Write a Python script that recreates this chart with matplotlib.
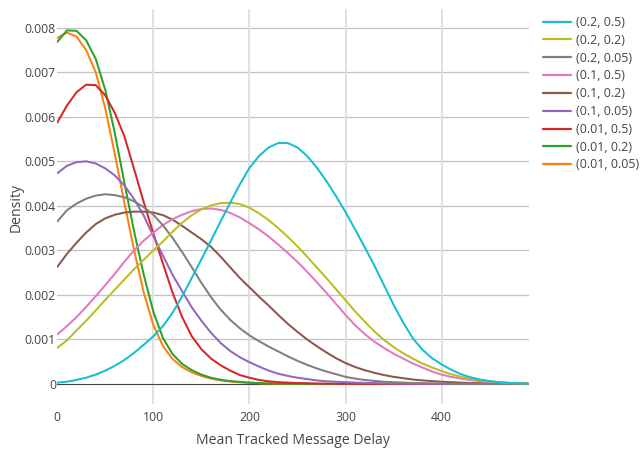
import matplotlib
matplotlib.use("Agg")
import matplotlib.pyplot as plt
from matplotlib.ticker import FuncFormatter

plt.rcParams['font.family'] = ['Open Sans', 'DejaVu Sans']

# ---- data (density values in units of 1e-3) ----
delay = [0, 10, 20, 30, 40, 50, 60, 70, 80, 90,
         100, 110, 120, 130, 140, 150, 160, 170, 180, 190,
         200, 210, 220, 230, 240, 250, 260, 270, 280, 290,
         300, 310, 320, 330, 340, 350, 360, 370, 380, 390,
         400, 410, 420, 430, 440, 450, 460, 470, 480, 490]
DENSITY_UNIT = 1e-3

d_001_005 = [7.77, 7.89, 7.80, 7.50, 7.00, 6.18, 5.15, 4.05, 3.00, 2.05,
             1.32, 0.85, 0.56, 0.38, 0.26, 0.18, 0.12, 0.08, 0.055, 0.037,
             0.025, 0.017, 0.011, 0.007, 0.005, 0.003, 0.002, 0.001, 0.001, 0,
             0, 0, 0, 0, 0, 0, 0, 0, 0, 0,
             0, 0, 0, 0, 0, 0, 0, 0, 0, 0]
d_001_02 = [7.68, 7.94, 7.93, 7.72, 7.30, 6.60, 5.62, 4.50, 3.42, 2.45,
            1.62, 1.03, 0.67, 0.45, 0.31, 0.21, 0.14, 0.095, 0.065, 0.045,
            0.03, 0.02, 0.013, 0.009, 0.006, 0.004, 0.002, 0.001, 0.001, 0,
            0, 0, 0, 0, 0, 0, 0, 0, 0, 0,
            0, 0, 0, 0, 0, 0, 0, 0, 0, 0]
d_001_05 = [5.87, 6.25, 6.55, 6.72, 6.71, 6.48, 6.08, 5.55, 4.82, 4.08,
            3.38, 2.70, 2.05, 1.50, 1.07, 0.78, 0.57, 0.42, 0.30, 0.20,
            0.14, 0.09, 0.06, 0.04, 0.03, 0.02, 0.015, 0.01, 0.007, 0.005,
            0.004, 0.003, 0.002, 0.001, 0.001, 0, 0, 0, 0, 0,
            0, 0, 0, 0, 0, 0, 0, 0, 0, 0]
d_01_005 = [4.73, 4.90, 4.98, 5.00, 4.95, 4.84, 4.68, 4.45, 4.15, 3.78,
            3.32, 2.88, 2.45, 2.08, 1.72, 1.42, 1.15, 0.92, 0.74, 0.60,
            0.49, 0.39, 0.30, 0.23, 0.18, 0.14, 0.11, 0.08, 0.06, 0.05,
            0.04, 0.03, 0.025, 0.02, 0.015, 0.01, 0.008, 0.006, 0.005, 0.004,
            0.003, 0.002, 0.002, 0.001, 0.001, 0, 0, 0, 0, 0]
d_01_02 = [2.63, 2.92, 3.17, 3.40, 3.59, 3.72, 3.80, 3.85, 3.87, 3.87,
           3.85, 3.79, 3.69, 3.55, 3.40, 3.25, 3.08, 2.86, 2.62, 2.38,
           2.17, 1.96, 1.76, 1.55, 1.35, 1.17, 1.00, 0.85, 0.71, 0.58,
           0.47, 0.38, 0.31, 0.25, 0.20, 0.16, 0.13, 0.10, 0.08, 0.065,
           0.05, 0.04, 0.03, 0.022, 0.016, 0.012, 0.008, 0.005, 0.003, 0.002]
d_01_05 = [1.11, 1.30, 1.50, 1.73, 1.97, 2.22, 2.48, 2.75, 3.00, 3.22,
           3.40, 3.57, 3.70, 3.80, 3.88, 3.93, 3.94, 3.91, 3.84, 3.74,
           3.61, 3.47, 3.31, 3.13, 2.94, 2.74, 2.52, 2.29, 2.05, 1.80,
           1.55, 1.32, 1.12, 0.95, 0.81, 0.68, 0.57, 0.46, 0.37, 0.28,
           0.21, 0.16, 0.12, 0.09, 0.06, 0.04, 0.03, 0.02, 0.01, 0.005]
d_02_005 = [3.65, 3.90, 4.05, 4.16, 4.23, 4.26, 4.24, 4.19, 4.10, 3.97,
            3.80, 3.56, 3.28, 2.96, 2.62, 2.27, 1.95, 1.67, 1.44, 1.25,
            1.09, 0.96, 0.84, 0.73, 0.62, 0.52, 0.43, 0.35, 0.28, 0.22,
            0.16, 0.12, 0.09, 0.07, 0.05, 0.04, 0.03, 0.022, 0.016, 0.012,
            0.009, 0.006, 0.004, 0.003, 0.002, 0.001, 0.001, 0, 0, 0]
d_02_02 = [0.81, 0.98, 1.20, 1.42, 1.65, 1.89, 2.12, 2.35, 2.58, 2.79,
           3.00, 3.20, 3.42, 3.62, 3.79, 3.92, 4.01, 4.06, 4.07, 4.04,
           3.96, 3.83, 3.68, 3.50, 3.30, 3.09, 2.86, 2.62, 2.38, 2.13,
           1.88, 1.63, 1.40, 1.18, 0.99, 0.83, 0.69, 0.57, 0.46, 0.37,
           0.29, 0.22, 0.16, 0.12, 0.08, 0.06, 0.04, 0.025, 0.015, 0.01]
d_02_05 = [0.03, 0.05, 0.09, 0.14, 0.21, 0.30, 0.41, 0.54, 0.70, 0.88,
           1.07, 1.30, 1.60, 1.97, 2.38, 2.80, 3.22, 3.65, 4.07, 4.48,
           4.85, 5.12, 5.31, 5.41, 5.41, 5.31, 5.12, 4.86, 4.56, 4.22,
           3.86, 3.47, 3.07, 2.66, 2.22, 1.78, 1.38, 1.03, 0.77, 0.58,
           0.44, 0.32, 0.22, 0.15, 0.10, 0.065, 0.04, 0.025, 0.015, 0.01]

series_labels = ["(0.01, 0.05)", "(0.01, 0.2)", "(0.01, 0.5)",
                 "(0.1, 0.05)", "(0.1, 0.2)", "(0.1, 0.5)",
                 "(0.2, 0.05)", "(0.2, 0.2)", "(0.2, 0.5)"]
series_values = [d_001_005, d_001_02, d_001_05, d_01_005, d_01_02, d_01_05,
                 d_02_005, d_02_02, d_02_05]
series_colors = ["#ff7f0e", "#2ca02c", "#d62728", "#9467bd", "#8c564b",
                 "#e377c2", "#7f7f7f", "#bcbd22", "#17becf"]

x_ticks = [0, 100, 200, 300, 400]
y_ticks = [0, 0.001, 0.002, 0.003, 0.004, 0.005, 0.006, 0.007, 0.008]

TEXT = "#444444"

fig = plt.figure(figsize=(6.43, 4.5), dpi=100)
ax = fig.add_axes([57.3 / 643, 46 / 450, (529 - 57.3) / 643, (404 - 9) / 450])

lines = []
for lab, vals, col in zip(series_labels, series_values, series_colors):
    ys = [v * DENSITY_UNIT for v in vals]
    ln, = ax.plot(delay, ys, color=col, lw=1.45, label=lab,
                  solid_joinstyle='round', solid_capstyle='round')
    lines.append(ln)

ax.set_xlim(0, 491)
ax.set_ylim(-0.00045, 0.00842)
ax.set_xticks(x_ticks)
ax.set_yticks(y_ticks)
ax.yaxis.set_major_formatter(FuncFormatter(lambda v, p: "0" if abs(v) < 1e-12 else f"{v:.3f}"))

for y in y_ticks[1:]:
    ax.axhline(y, color="#c2c2c2", lw=0.9, zorder=0)
for x in x_ticks[1:]:
    ax.axvline(x, color="#dedede", lw=1.3, zorder=0)
ax.axhline(0, color="#444444", lw=0.8, zorder=1)

for s in ax.spines.values():
    s.set_visible(False)
ax.tick_params(axis='both', length=0, labelsize=8.8, colors=TEXT)
ax.tick_params(axis='y', pad=1)
ax.tick_params(axis='x', pad=5)

fig.text(293 / 643, 1 - 441 / 450, "Mean Tracked Message Delay", ha='center', va='center',
         fontsize=10.08, color=TEXT)
fig.text(16 / 643, 1 - 208 / 450, "Density", ha='center', va='center', rotation=90,
         fontsize=10.08, color=TEXT)

handles = lines[::-1]
leg = fig.legend(handles=handles, labels=[h.get_label() for h in handles],
                 loc='upper left', bbox_to_anchor=(542.7 / 643, 1 - 16 / 450),
                 frameon=False, borderpad=0, borderaxespad=0,
                 handlelength=2.25, handletextpad=0.42, labelspacing=0.385,
                 fontsize=9.0, labelcolor=TEXT)
for lh in leg.get_lines():
    lh.set_linewidth(1.6)

fig.savefig("out.png", dpi=100)
